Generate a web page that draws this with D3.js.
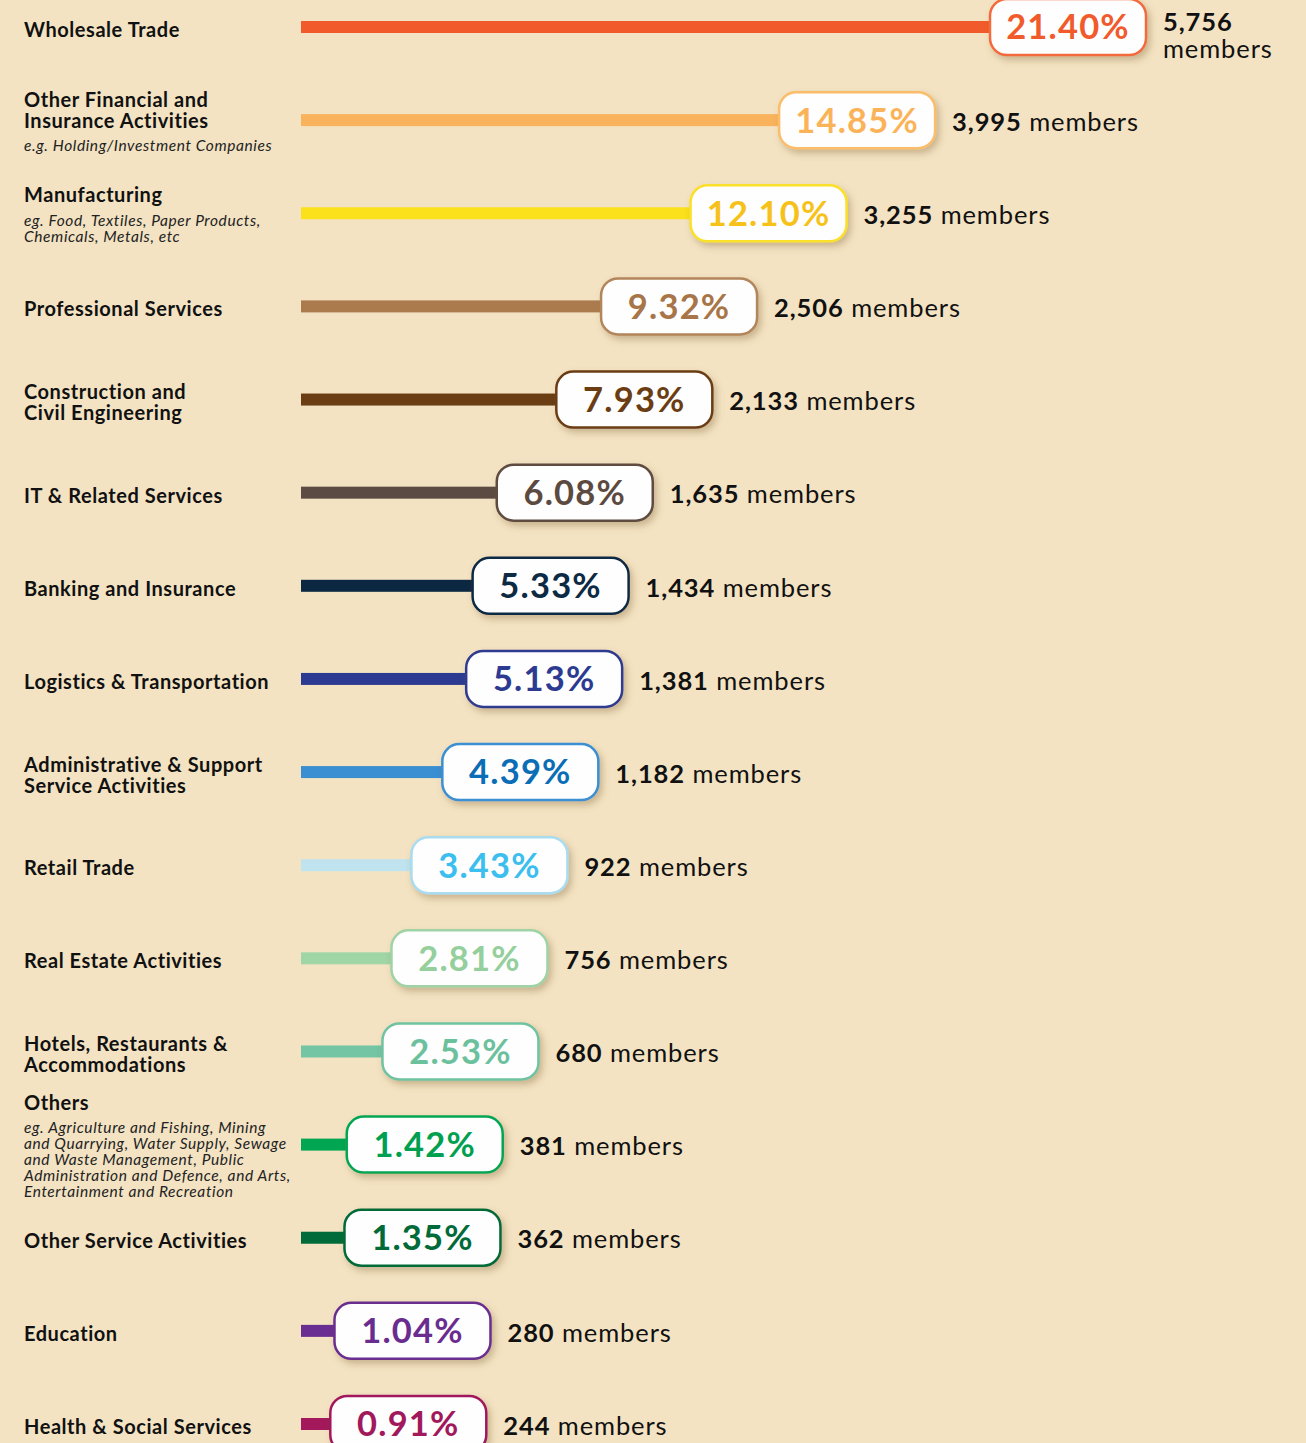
<!DOCTYPE html>
<html>
<head>
<meta charset="utf-8">
<script src="https://cdn.jsdelivr.net/npm/d3@7"></script>
<style>
  html, body { margin: 0; padding: 0; background: #f3e3c3; }
  svg { display: block; font-family: Lato, "Open Sans", sans-serif; }
</style>
</head>
<body>
<div id="chart"></div>
<script>
// industries, top to bottom; "\n" marks a line break in the label
const industries = [
  'Wholesale Trade',
  'Other Financial and\nInsurance Activities',
  'Manufacturing',
  'Professional Services',
  'Construction and\nCivil Engineering',
  'IT & Related Services',
  'Banking and Insurance',
  'Logistics & Transportation',
  'Administrative & Support\nService Activities',
  'Retail Trade',
  'Real Estate Activities',
  'Hotels, Restaurants &\nAccommodations',
  'Others',
  'Other Service Activities',
  'Education',
  'Health & Social Services'
];
const notes = [
  '',
  'e.g. Holding/Investment Companies',
  'eg. Food, Textiles, Paper Products,\nChemicals, Metals, etc',
  '', '', '', '', '', '', '', '', '',
  'eg. Agriculture and Fishing, Mining\nand Quarrying, Water Supply, Sewage\nand Waste Management, Public\nAdministration and Defence, and Arts,\nEntertainment and Recreation',
  '', '', ''
];
const shares = [21.40, 14.85, 12.10, 9.32, 7.93, 6.08, 5.33, 5.13, 4.39, 3.43, 2.81, 2.53, 1.42, 1.35, 1.04, 0.91];
const members = [5756, 3995, 3255, 2506, 2133, 1635, 1434, 1381, 1182, 922, 756, 680, 381, 362, 280, 244];
const barColors = ['#f15a2b', '#f9b35c', '#fbe01c', '#ab7b4e', '#6b3d13', '#5c4b42', '#0c2742', '#2c3a91', '#3a8ed2', '#bfe3ef', '#a0d5a6', '#73c5a3', '#00a651', '#006b3a', '#6a2d91', '#a3195b'];
const borderColors = ['#f26b3d', '#fbbd6b', '#fbe02a', '#b3855a', '#6b3e14', '#5e4b41', '#0d2a44', '#2e3a8f', '#3b8fd3', '#a9dcef', '#9fd3a5', '#6fc3a0', '#00a652', '#006a38', '#6a2d8f', '#a1195c'];
const textColors = ['#f15a2b', '#fbb35a', '#f6c21a', '#a87548', '#6b3d13', '#5c4a40', '#0d2a44', '#2c3a91', '#0a6db6', '#3cbfef', '#94cf9c', '#6cc19d', '#00a050', '#006a38', '#6a2d8f', '#a1195c'];

const W = 1306, H = 1443;
const fmtInt = d3.format(',');

const svg = d3.select('#chart').append('svg').attr('width', W).attr('height', H);
svg.append('rect').attr('width', W).attr('height', H).attr('fill', '#f3e3c3');

const defs = svg.append('defs');
defs.append('filter').attr('id', 'shadow')
  .attr('x', '-20%').attr('y', '-30%').attr('width', '150%').attr('height', '170%')
  .append('feDropShadow')
  .attr('dx', 3).attr('dy', 4).attr('stdDeviation', 3.5)
  .attr('flood-color', '#7a5a2a').attr('flood-opacity', 0.35);

const x = d3.scaleLinear().domain([0, 21.40]).range([301, 990]);
const y = d3.scalePoint().domain(industries).range([27, 1424]);

const pillW = 156, pillH = 56, barH = 12;

const rows = industries.map((name, i) => ({
  name, i,
  title: name.split('\n'),
  note: notes[i] ? notes[i].split('\n') : [],
  share: shares[i], members: members[i]
}));

const g = svg.selectAll('g.row').data(rows).join('g').attr('class', 'row')
  .attr('transform', d => `translate(0,${y(d.name)})`);

// left labels: title + optional note, block centered on the bar
const titleLH = 21, noteLH = 16, gap = 26;
g.each(function (d) {
  const sel = d3.select(this);
  const h = (d.title.length - 1) * titleLH + (d.note.length ? gap + (d.note.length - 1) * noteLH : 0);
  const top = -h / 2 + 2;
  const t = sel.append('text').attr('font-size', 20).attr('font-weight', 700)
    .attr('letter-spacing', 0.55).attr('fill', '#111');
  d.title.forEach((line, k) => {
    t.append('tspan').attr('x', 24).attr('y', top + k * titleLH).attr('dy', '0.4em').text(line);
  });
  if (d.note.length) {
    const ny = top + (d.title.length - 1) * titleLH + gap;
    const n = sel.append('text').attr('font-size', 15.5).attr('font-style', 'italic')
      .attr('letter-spacing', 0.6).attr('fill', '#222');
    d.note.forEach((line, k) => {
      n.append('tspan').attr('x', 24).attr('y', ny + k * noteLH).attr('dy', '0.36em').text(line);
    });
  }
});

// bars
g.append('rect')
  .attr('x', x(0)).attr('y', -barH / 2)
  .attr('width', d => x(d.share) - x(0) + 10).attr('height', barH)
  .attr('fill', d => barColors[d.i]);

// pills
g.append('rect')
  .attr('x', d => x(d.share)).attr('y', -pillH / 2)
  .attr('width', pillW).attr('height', pillH).attr('rx', 17)
  .attr('fill', '#fefefe')
  .attr('stroke', d => borderColors[d.i]).attr('stroke-width', 2.5)
  .attr('filter', 'url(#shadow)');

g.append('text')
  .attr('x', d => x(d.share) + pillW / 2).attr('y', 0).attr('dy', '0.36em')
  .attr('text-anchor', 'middle').attr('font-size', 34.5).attr('font-weight', 700)
  .attr('letter-spacing', 1.2)
  .attr('fill', d => textColors[d.i])
  .text(d => d.share.toFixed(2) + '%');

// member counts
g.each(function (d) {
  const sel = d3.select(this);
  const mx = x(d.share) + pillW + 17;
  const t = sel.append('text').attr('x', mx).attr('y', 1).attr('dy', '0.38em')
    .attr('font-size', 25.5).attr('letter-spacing', 0.9).attr('fill', '#111');
  t.append('tspan').attr('font-weight', 700).text(fmtInt(d.members));
  const rest = t.append('tspan').text(' members');
  if (mx + t.node().getComputedTextLength() > W - 10) {
    rest.text('members').attr('x', mx).attr('dy', '1.08em');
    t.attr('y', -6);
  }
});
</script>
</body>
</html>
